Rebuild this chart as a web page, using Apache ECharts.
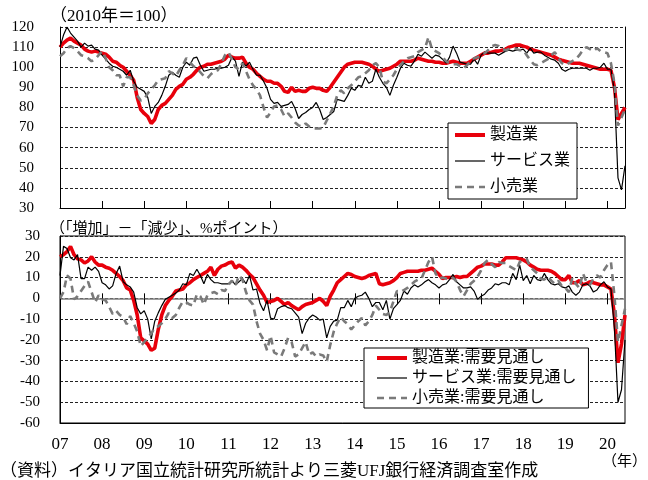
<!DOCTYPE html>
<html>
<head>
<meta charset="utf-8">
<script src="https://cdn.jsdelivr.net/npm/echarts@6/dist/echarts.min.js"></script>
<style>
    html, body { margin: 0; padding: 0; background: #fff; }
    #chart { width: 648px; height: 480px; }
</style>
</head>
<body>
<div id="chart"></div>
<script>
// 月次データ 2007年1月〜2020年6月 (1行 = 1年)

// 上段：信頼感指数 (2010年=100)
const mfgIndex = [
    110, 112, 113.5, 114.5, 113, 112, 111, 109, 108, 107.5, 108, 107.5,
    107, 106.5, 105, 103, 102.5, 101, 100, 98, 96, 93.5, 85, 79,
    77, 75.5, 72, 74, 79, 81, 82, 84, 86, 89, 90.5, 91.5,
    94, 95, 96.5, 98.5, 100, 100.5, 101.5, 101.5, 102, 102.5, 103, 104,
    106, 105, 104.5, 104.5, 105, 102, 100, 99, 97, 95.5, 94, 93,
    93, 92, 92, 90.5, 88, 87.5, 90, 88, 88.5, 88, 88, 89.5,
    90, 89.5, 89.5, 88.5, 88, 90, 92.5, 95, 97.5, 100, 101.5, 102,
    102.5, 102.5, 102.5, 102, 101.5, 100.5, 99, 98, 98.5, 99, 99.5, 100.5,
    101.5, 103, 103, 103, 103, 103.5, 104.5, 104, 103.5, 103, 103, 102.5,
    102.5, 102, 102, 102.5, 103, 102.5, 102, 102, 102, 103, 104, 105,
    106, 107, 107, 107.5, 108, 108, 108.5, 109, 110, 110.5, 111, 111,
    110.5, 110, 109, 108.5, 108, 107.5, 107, 106.5, 106, 105, 104, 103.5,
    103, 102.5, 102, 102, 102, 101.5, 101, 100.5, 100, 99.5, 99, 99,
    99, 98.5, 90, 74, 77, 80
];
const svcIndex = [
    110, 116, 120, 117, 115, 113, 110, 112, 110.5, 111, 109, 108.5,
    106, 104, 102, 100.5, 100, 99, 98, 96, 98.5, 93, 90, 89,
    88, 85, 77, 80.5, 82.5, 86, 90.5, 96, 97.5, 96, 95, 100,
    102.5, 101, 104.5, 105, 101, 98, 98.5, 99, 99, 99.5, 99.5, 100,
    101, 105, 103, 95.5, 102.5, 100.5, 102.5, 99, 96, 96, 93, 89.5,
    84, 82, 82.5, 80.5, 81, 81.5, 83, 79.5, 74.5, 76.5, 77.5, 79,
    80, 82.5, 79, 74, 75, 76.5, 78, 84, 83.5, 83, 86, 89.5,
    88.5, 91, 90.5, 95, 92, 93, 99, 95, 92, 90, 86, 91,
    95, 99.5, 102, 101, 100.5, 103, 106.5, 105.5, 107.5, 106, 104.5, 106,
    105.5, 104, 102, 105, 110.5, 107, 102.5, 102, 101.5, 101.5, 104, 101.5,
    106, 107.5, 107, 107, 107, 106, 107, 108, 108.5, 108, 108.5, 108.5,
    109, 107, 109.5, 107, 107.5, 107.5, 106, 105, 104, 103.5, 102, 99,
    98, 99, 99.5, 99.5, 99.5, 99.5, 99.5, 98.5, 99.5, 99.5, 100, 102,
    99, 99, 88, 45, 39, 51
];
const retIndex = [
    105.5, 107, 109.5, 110.5, 109.5, 108, 106, 105.5, 104.5, 103, 104, 106,
    108, 104.5, 100, 98.5, 96, 96, 90.5, 95, 95, 91, 86, 83.5,
    84, 87, 89, 91, 93.5, 94, 94.5, 98, 97, 95.5, 98.5, 101,
    104.5, 102.5, 100.5, 99.5, 97.5, 95.5, 94.5, 96.5, 98, 98.5, 102, 106,
    107.5, 104, 100, 99, 102, 98, 94, 91, 89, 86, 80, 75,
    77.5, 80.5, 81, 79, 75.5, 77, 75, 72.5, 71, 70.5, 72, 70.5,
    69.5, 69.5, 69.5, 70, 73.5, 77, 80.5, 86, 88.5, 87, 89.5, 91,
    93, 95, 95.5, 97, 98.5, 101, 102, 100, 93, 92, 94, 96,
    99, 101, 103, 104.5, 105, 105.5, 107.5, 108.5, 109.5, 115, 109, 108,
    107, 105, 103, 102, 101.5, 101.5, 100.5, 99.5, 101, 103, 104.5, 105,
    106, 107, 108.5, 110.5, 111, 110.5, 109, 108.5, 109, 109.5, 109, 108.5,
    108.5, 106, 103.5, 101.5, 101, 102, 103, 104, 106, 107.5, 104.5, 102,
    101, 102, 103, 104, 106, 108.5, 110, 109, 108, 109.5, 108, 107.5,
    107, 102, 92, 71, 75, 79
];

// 下段：需要見通し (「増加」-「減少」、%ポイント)
const mfgOutlook = [
    20, 21, 22.5, 25, 21, 19, 18.5, 17, 18, 20, 17.5, 16,
    16, 15, 14.5, 13.5, 12, 10.5, 8.5, 5, 4, -1, -8, -19,
    -20.5, -22, -25, -24, -15, -8, -3.5, -1, 1, 3.5, 4, 4.5,
    6.5, 7.5, 9, 10, 11, 12, 13, 15, 11, 14, 15.5, 16,
    17, 17.5, 14.5, 16, 15, 13.5, 11.5, 10, 7, 4, 1.5, -2,
    -1.5, -1, 0, -1.5, -3, -2, -3.5, -4.5, -5.5, -4, -3, -2.5,
    -2, -1, 0, -1.5, -3.5, 1, 4, 7.5, 9, 10.5, 12, 11.5,
    10.5, 10, 9.5, 10, 11, 11.5, 12, 7, 6.5, 7, 7.5, 8.5,
    10, 12, 12.5, 13, 13, 13, 13, 13.5, 13.5, 14, 14.5, 13,
    11.5, 9.5, 10, 10, 10, 10.5, 10, 10.5, 10.5, 12, 13.5, 15,
    15.5, 16.5, 16.5, 16.5, 16, 16, 17.5, 19.5, 19.5, 19.5, 19.5, 19,
    18.5, 17.5, 16, 15, 14, 13.5, 13.5, 13.5, 13, 12, 10.5, 9,
    9, 11, 7.5, 7.5, 8.5, 6.5, 7, 8, 7.5, 7, 6.5, 6.5,
    5.5, 4.5, -8, -31, -22, -8
];
const svcOutlook = [
    11, 25, 24, 19.5, 18.5, 21, 9.5, 9.5, 15, 13.5, 15, 13,
    7.5, 6.5, 4.5, 6, 12, 15.5, 8, 6.5, 5.5, 3, -4.5, -7.5,
    -6, -10, -19.5, -11, -7, -3.5, -0.5, 0.5, 1.5, 2.5, 4, 7,
    6.5, 12, 11, 14, 11, 7, 11.5, 9, 7.5, 7.5, 7, 7,
    7, 8.5, 6.5, 8, 9.5, 7, 11, 4, 4.5, -2.5, -6, -1,
    -9.5, -10, -5, -4, -3.5, -4.5, -5, -7, -9, -17, -12, -9.5,
    -8, -9, -10.5, -10, -19, -13.5, -11, -10.5, -4.5, -4.5, -1, -4,
    0, 1, 1.5, 3, 0, -4, -2, -2, -5.5, -1, -10, -5,
    -3, -1, 3.5, 2, 5, 6.5, 5.5, 6.5, 8, 9, 7.5, 6.5,
    5, 6.5, 7, 9, 11.5, 8, 6.5, 5, 5, 5.5, 3.5, -0.5,
    1, 2, 4, 5, 7, 6.5, 7.5, 7.5, 6.5, 12, 9, 16,
    8.5, 11, 7, 11, 9, 8.5, 12, 9, 7, 6.5, 7, 5.5,
    5, 6, 3, 1.5, 3, 6.5, 7, 6, 3, 4, 6.5, 8,
    5.5, 4.5, -15, -50, -44, -20
];
const retOutlook = [
    0, 3, 11, 9.5, -0.5, 1, 3.5, 6, 8, 3, -2, 1.5,
    -0.5, -1, -4, -7.5, -6, -8, -9, -12.5, -8.5, -12, -16, -23,
    -21, -19, -17, -14, -13.5, -12, -10, -7, -9.5, -8, -4.5, -1.5,
    -2, -3, -3.5, 2, 1, -3, 1.5, 2.5, 3, 2, 4, 3.5,
    6.5, 8.5, 6, 11, 9, 3, -1, -3, -11, -17, -20, -25,
    -18, -26, -27, -28, -24, -19, -21, -28, -27, -24, -21, -27,
    -26, -28, -27, -27.5, -30.5, -22.5, -16, -12, -9, -11, -12.5, -15,
    -13, -11, -9.5, -13, -11, -8, -3.5, -5.5, -7.5, -8, -6.5, -1.5,
    3.5, 3, 4, 5, 6.5, 8, 9, 9.5, 13.5, 17.5, 20, 12,
    9.5, 10, 9.5, 9, 10, 8, 4, 1, 4, 7, 8.5, 10.5,
    13.5, 17, 18.5, 16.5, 15, 17.5, 17, 17, 15.5, 14.5, 13.5, 17.5,
    18.5, 19, 15, 13.5, 12, 9.5, 9, 10.5, 8.5, 7, 8.5, 6,
    5, 3, 10, 7, 5, 12, 8, 6.5, 9.5, 11, 10, 13.5,
    16, 17.5, 1, -21, -13, -5
];

// 目盛り
const topTicks = { min: 30, max: 120, step: 10 };
const bottomTicks = { min: -60, max: 30, step: 10 };

// 月ラベル "2007-01" 〜 "2020-06"
const months = [];
for (let y = 2007; y <= 2020; y++) {
    for (let m = 1; m <= 12; m++) {
        if (y == 2020 && m > 6) break;
        months.push(y + '-' + (m < 10 ? '0' + m : m));
    }
}

const FONT = '"Liberation Serif", "Noto Sans CJK JP", serif';
const RED = '#e8000b';
const GRAY = '#7a7a7a';

let chart = echarts.init(document.getElementById('chart'), null, { renderer: 'canvas' });

// 線のスタイル
const STYLES = {
    red:   { color: RED, width: 3.6 },
    black: { color: '#000', width: 1.2 },
    gray:  { color: GRAY, width: 2.6, type: [7, 5] }
};

// 共通：y軸
function valueAxis(grid, t, margin) {
    return {
        gridIndex: grid, type: 'value', min: t.min, max: t.max, interval: t.step,
        axisLine: { show: true, lineStyle: { color: '#000', width: 1 } },
        axisTick: { show: false },
        axisLabel: { fontSize: 15, color: '#000', margin: margin, fontFamily: FONT },
        splitLine: { lineStyle: { color: '#222', width: 1, type: [3, 2] } }
    };
}

// 共通：線系列
function lineSeries(name, data, kind, xi, yi) {
    let style = STYLES[kind];
    return {
        name: name, type: 'line', data: data, xAxisIndex: xi, yAxisIndex: yi,
        symbol: 'none', itemStyle: { color: style.color }, lineStyle: style,
        emphasis: { disabled: true }
    };
}

let legendText = { fontSize: 16, color: '#000', fontFamily: FONT, lineHeight: 16 };

// 凡例は線だけ（記号は透明）
function legendBox(names, left, top, gap, padding) {
    const kinds = ['red', 'black', 'gray'];
    return {
        data: names.map((n, i) => ({ name: n, lineStyle: Object.assign({}, STYLES[kinds[i]], kinds[i] == 'red' ? { width: 4 } : {}) })),
        orient: 'vertical', left: left, top: top,
        itemWidth: 30, itemHeight: 14, itemGap: gap,
        padding: padding,
        itemStyle: { opacity: 0 },
        borderColor: '#000', borderWidth: 1, borderRadius: 0, backgroundColor: '#fff',
        selectedMode: false, textStyle: legendText
    };
}

let option = {
    animation: false,
    backgroundColor: '#fff',
    textStyle: { fontFamily: FONT },
    title: [
        { text: '（2010年＝100）', left: 50, top: 8, padding: 0,
          textStyle: { fontSize: 17, fontWeight: 'normal', color: '#000', fontFamily: FONT } },
        { text: '（「増加」－「減少」、%ポイント）', left: 50, top: 222, padding: 0,
          textStyle: { fontSize: 15, fontWeight: 'normal', color: '#000', fontFamily: FONT } },
        { text: '（資料）イタリア国立統計研究所統計より三菱UFJ銀行経済調査室作成', left: 0, top: 463, padding: 0,
          textStyle: { fontSize: 17, fontWeight: 'normal', color: '#000', fontFamily: FONT } },
        { text: '（年）', left: 602, top: 455, padding: 0,
          textStyle: { fontSize: 15, fontWeight: 'normal', color: '#000', fontFamily: FONT } }
    ],
    grid: [
        { left: 60, right: 23, top: 27, height: 181, outerBoundsMode: 'none' },
        { left: 60, right: 23, top: 236, height: 187, outerBoundsMode: 'none',
          show: true, borderColor: '#000', borderWidth: 1 }
    ],
    legend: [
        legendBox(['製造業', 'サービス業', '小売業'], 448, 123, 10, [4, 7, 4, 5]),
        legendBox(['製造業:需要見通し', 'サービス業:需要見通し', '小売業:需要見通し'], 364, 348, 4, [2, 12, 2, 11])
    ],
    xAxis: [
        // 上段：下端の軸 (内向き目盛り)
        {
            gridIndex: 0, type: 'category', data: months, boundaryGap: false,
            axisLine: { lineStyle: { color: '#000', width: 1 } },
            axisTick: { inside: true, length: 7, interval: 11, lineStyle: { color: '#000' } },
            axisLabel: { show: false }, splitLine: { show: false }
        },
        // 下段：年ラベル
        {
            gridIndex: 1, type: 'category', data: months, boundaryGap: false, position: 'bottom',
            axisLine: { onZero: false, lineStyle: { color: '#000', width: 1 } },
            axisTick: { show: false },
            axisLabel: { interval: 11, formatter: v => v.slice(2, 4), fontSize: 17, color: '#000', margin: 13, fontFamily: FONT },
            splitLine: { show: false }
        },
        // 下段：ゼロ線 (上向き目盛り)
        {
            gridIndex: 1, type: 'category', data: months, boundaryGap: false, position: 'top',
            axisLine: { onZero: true, onZeroAxisIndex: 2, lineStyle: { color: '#808080', width: 1.5 } },
            axisTick: { length: 5, interval: 11, lineStyle: { color: '#000' } },
            axisLabel: { show: false }, splitLine: { show: false }
        },
        // 下段：ゼロ線 (下向き目盛り)
        {
            gridIndex: 1, type: 'category', data: months, boundaryGap: false, position: 'bottom',
            axisLine: { show: false, onZero: true, onZeroAxisIndex: 2 },
            axisTick: { length: 6, interval: 11, lineStyle: { color: '#000' } },
            axisLabel: { show: false }, splitLine: { show: false }
        }
    ],
    yAxis: [
        valueAxis(0, topTicks, 26),
        // 上段の右枠
        {
            gridIndex: 0, type: 'value', position: 'right', min: topTicks.min, max: topTicks.max,
            axisLine: { show: true, lineStyle: { color: '#000', width: 1 } },
            axisTick: { show: false }, axisLabel: { show: false }, splitLine: { show: false }
        },
        valueAxis(1, bottomTicks, 20)
    ],
    series: [
        lineSeries('製造業', mfgIndex, 'red', 0, 0),
        lineSeries('サービス業', svcIndex, 'black', 0, 0),
        lineSeries('小売業', retIndex, 'gray', 0, 0),
        lineSeries('製造業:需要見通し', mfgOutlook, 'red', 1, 2),
        lineSeries('サービス業:需要見通し', svcOutlook, 'black', 1, 2),
        lineSeries('小売業:需要見通し', retOutlook, 'gray', 1, 2)
    ]
};

chart.setOption(option);
</script>
</body>
</html>
